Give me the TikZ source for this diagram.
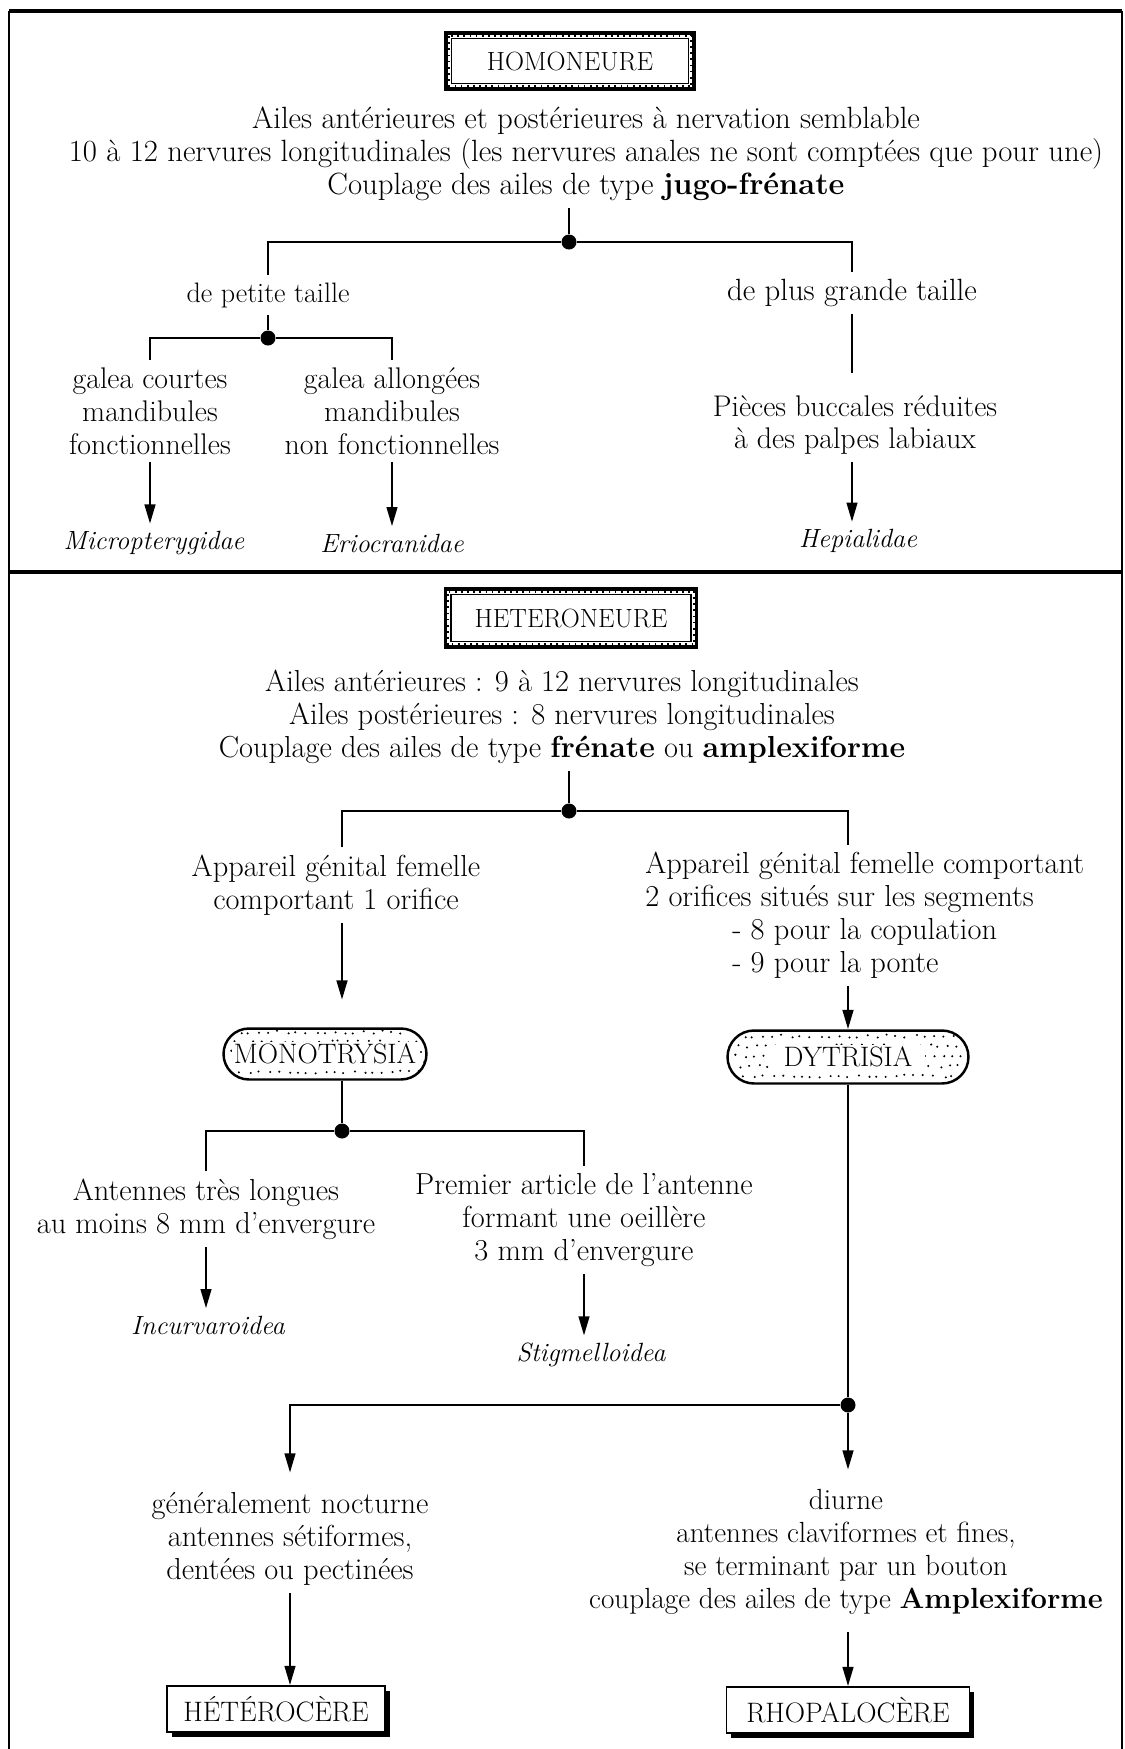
\documentclass[tikz,border=0pt]{standalone}
\usetikzlibrary{arrows.meta,shapes.misc,shadows,calc}
\newcommand\fsA{\fontsize{15}{18.7}\selectfont}
\newcommand\fsB{\fontsize{16}{18.7}\selectfont}
\newcommand\fsU{\fontsize{17.5}{18.7}\selectfont}
\newcommand\fsP{\fontsize{16}{18.7}\selectfont}
\newcommand\fsG{\fontsize{17}{18.7}\selectfont}
\newcommand\fsD{\fontsize{16.6}{18.7}\selectfont}
\newcommand\fsL{\fontsize{17.3}{18.7}\selectfont}
\newcommand\fsI{\fontsize{15}{18.7}\selectfont\itshape}
\begin{document}
\begin{tikzpicture}[x=0.02cm,y=-0.02cm,
  txt/.style={align=center, inner sep=4pt, font=\fsG},
  txtb/.style={align=center, inner sep=4pt, font=\fsL},
  ln/.style={line width=1.5pt},
  arr/.style={line width=1.5pt,-{Triangle[length=11pt,width=6pt]}},
  jdot/.style={circle, fill=black, inner sep=0pt, minimum size=0.3cm},
  filmbox/.style={draw, line width=1.8pt, inner sep=0pt, font=\fsA},
  shbox/.style={draw, line width=0.9pt, fill=white, inner sep=0pt, minimum width=4.36cm, minimum height=0.92cm, font=\fsB,
     drop shadow={shadow xshift=2.6pt, shadow yshift=-2.6pt, fill=black, opacity=1}},
  pill/.style={rounded rectangle, draw, line width=1.4pt, inner sep=0pt,
     path picture={\pgfmathsetseed{11}
       \foreach \r in {0,...,4}{\foreach \c in {0,...,26}{
         \fill[black] (path picture bounding box.south west) ++({0.1cm+\c*0.19cm+rnd*0.1cm+mod(\r,2)*0.09cm},{0.12cm+\r*0.2cm+rnd*0.06cm}) circle (0.65pt);}}}},
  pilltxt/.style={fill=white, inner sep=1pt, font=\fsB}
]
\useasboundingbox (0,0) rectangle (1125,1749);
% frame
\draw[line width=1.4pt] (9,1749) -- (9,11);
\draw[line width=1.4pt] (1122,1749) -- (1122,11);
\draw[line width=2.4pt] (9,11) -- (1122,11);
\draw[line width=2pt] (9,572) -- (1122,572);

% ---------- HOMONEURE ----------
\node[filmbox, minimum width=4.96cm, minimum height=1.12cm] (homo) at (570,61) {HOMONEURE};
\draw[line width=0.9pt] ([shift={(7,-7)}]homo.south west) rectangle ([shift={(-7,7)}]homo.north east);
\draw[line width=2pt, dash pattern=on 1pt off 2.5pt] ([shift={(3.5,-3.5)}]homo.south west) rectangle ([shift={(-3.5,3.5)}]homo.north east);

\node[txt, font=\fsU] (desc1) at (586,154) {Ailes antérieures et postérieures à nervation semblable\\10 à 12 nervures longitudinales (les nervures anales ne sont comptées que pour une)\\Couplage des ailes de type \textbf{jugo-frénate}};
\node[jdot] (d1) at (569,242) {};
\draw[ln] (d1) -- (d1 |- desc1.south);
\node[txt, font=\fsP] (petite) at (268,295) {de petite taille};
\node[txt, font=\fsU] (grande) at (852,293) {de plus grande taille};
\draw[ln] (petite.north) |- (d1) -| (grande.north);

\node[jdot] (d2) at (268,338) {};
\draw[ln] (petite.south) -- (d2);
\node[txt] (galc) at (150,411) {galea courtes\\mandibules\\fonctionnelles};
\node[txt] (gall) at (392,411) {galea allongées\\mandibules\\non fonctionnelles};
\draw[ln] (galc.north) |- (d2) -| (gall.north);
\node[txt, font=\fsI] (micro) at (154,543) {Micropterygidae};
\node[txt, font=\fsI] (erio) at (392,543) {Eriocranidae};
\draw[arr] (galc.south) -- (galc.south |- micro.north);
\draw[arr] (gall.south) -- (gall.south |- erio.north);

\node[txt] (pieces) at (855,425) {Pièces buccales réduites\\à des palpes labiaux};
\draw[ln, shorten >=0.3cm] (grande.south) -- (grande.south |- pieces.north);
\node[txt, font=\fsI] (hepi) at (858,541) {Hepialidae};
\draw[arr] (grande |- pieces.south) -- (grande |- hepi.north);

% ---------- HETERONEURE ----------
\node[filmbox, minimum width=5.02cm, minimum height=1.16cm] (hetero) at (571,618) {HETERONEURE};
\draw[line width=0.9pt] ([shift={(7,-7)}]hetero.south west) rectangle ([shift={(-7,7)}]hetero.north east);
\draw[line width=2pt, dash pattern=on 1pt off 2.5pt] ([shift={(3.5,-3.5)}]hetero.south west) rectangle ([shift={(-3.5,3.5)}]hetero.north east);

\node[txtb] (desc2) at (562,717) {Ailes antérieures : 9 à 12 nervures longitudinales\\Ailes postérieures : 8 nervures longitudinales\\Couplage des ailes de type \textbf{frénate} ou \textbf{amplexiforme}};
\node[jdot] (d3) at (569,811) {};
\draw[ln] (d3) -- (d3 |- desc2.south);

\node[txtb] (gen1) at (336,885) {Appareil génital femelle\\comportant 1 orifice};
\node[txtb, align=left, anchor=north west] (gen2) at (638,845) {Appareil génital femelle comportant\\2 orifices situés sur les segments\\\hspace*{1.74cm}- 8 pour la copulation\\\hspace*{1.74cm}- 9 pour la ponte};

\node[pill, minimum width=4.06cm, minimum height=1.02cm] (mono) at (325,1054) {};
\node[pilltxt] (monotxt) at (mono) {MONOTRYSIA};
\node[pill, minimum width=4.82cm, minimum height=1.06cm] (dyt) at (848,1057) {};
\node[pilltxt, inner xsep=7pt] (dyttxt) at (dyt) {DYTRISIA};

\draw[ln] (gen1.north -| 342,0) |- (d3) -| (gen2.north -| dyt.center);
\draw[arr, shorten >=0.55cm] (gen1.south -| 342,0) -- (mono.north -| 342,0);
\draw[arr] (gen2.south -| dyt.center) -- (dyt.north);

\node[jdot] (d4) at (342,1131) {};
\draw[ln] (mono.south -| d4) -- (d4);
\node[txtb] (ant1) at (206,1209) {Antennes très longues\\au moins 8 mm d'envergure};
\node[txtb] (prem) at (584,1220) {Premier article de l'antenne\\formant une oeillère\\3 mm d'envergure};
\draw[ln] (ant1.north) |- (d4) -| (prem.north);
\node[txtb, font=\fsI] (incur) at (208,1325) {Incurvaroidea};
\node[txtb, font=\fsI] (stig) at (591,1355) {Stigmelloidea};
\draw[arr] (ant1.south) -- (ant1.south |- incur.north);
\draw[arr] (prem.south) -- (prem.south |- stig.north);

\node[jdot] (d5) at (848,1405) {};
\draw[ln] (dyt.south) -- (d5);
\node[txtb] (noct) at (290,1539) {généralement nocturne\\antennes sétiformes,\\dentées ou pectinées};
\node[txtb, font=\fsD] (diur) at (846,1552) {diurne\\antennes claviformes et fines,\\se terminant par un bouton\\couplage des ailes de type \textbf{Amplexiforme}};
\draw[arr, shorten >=0.25cm] (d5) -| (noct.north);
\draw[arr, shorten >=0.25cm] (d5) -- (d5 |- diur.north);

\node[shbox] (hetc) at (276,1709) {HÉTÉROCÈRE};
\node[shbox, minimum width=4.86cm] (rhop) at (848,1710) {RHOPALOCÈRE};
\draw[arr] (noct.south) -- (noct.south |- hetc.north);
\draw[arr, shorten <=0.2cm] (diur.south -| rhop.north) -- (rhop.north);
\end{tikzpicture}
\end{document}
